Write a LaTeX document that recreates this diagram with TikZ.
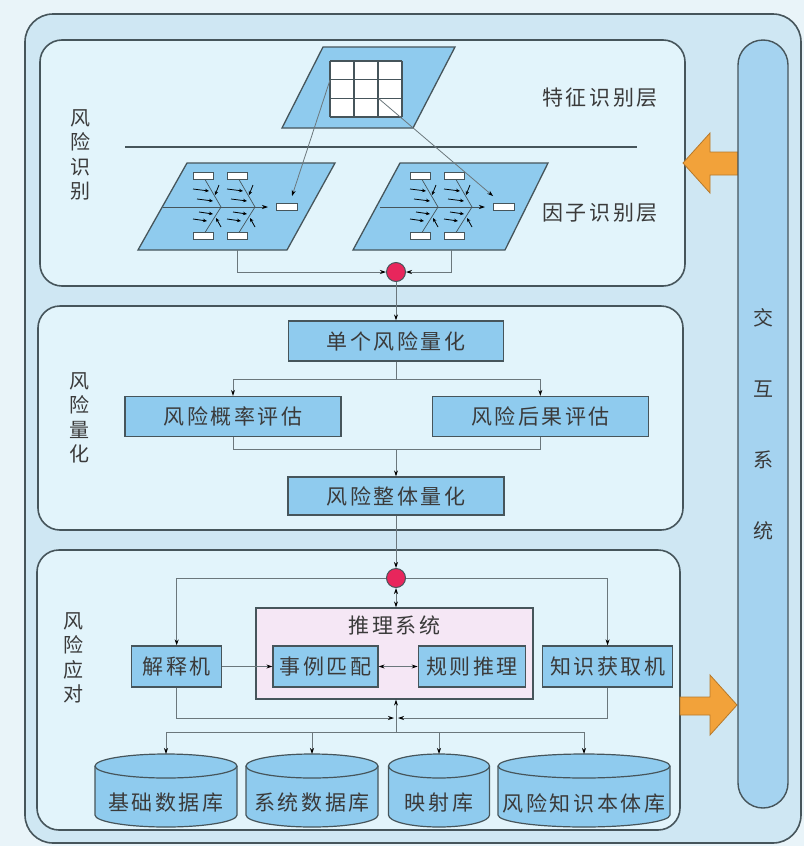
\documentclass[tikz,border=0pt]{standalone}
\usepackage{fontspec}
\newfontfamily\cjk{Noto Sans CJK SC}[LetterSpace=12]
\usepackage{tikz}
\usetikzlibrary{positioning, arrows.meta}

\definecolor{pagebg}{HTML}{E9F4F9}
\definecolor{outerfill}{HTML}{CFE7F3}
\definecolor{panelfill}{HTML}{E2F4FB}
\definecolor{boxblue}{HTML}{8FCBEE}
\definecolor{barblue}{HTML}{A5D3F0}
\definecolor{inferpink}{HTML}{F5E7F5}
\definecolor{dotred}{HTML}{E8265C}
\definecolor{bigorange}{HTML}{F2A23A}
\definecolor{edge}{HTML}{46555B}
\definecolor{wire}{HTML}{6B777C}
\definecolor{ink}{HTML}{3A3A3A}

\begin{document}
\begin{tikzpicture}[
    x=1pt, y=1pt,
    >={Stealth[length=6pt, width=4pt, color=black]},
    every node/.style={text=ink, font=\cjk\fontsize{21pt}{25pt}\selectfont},
    panel/.style={draw=edge, line width=1.6pt, rounded corners=22pt, fill=panelfill},
    box/.style={rectangle, draw=edge, line width=1.3pt, fill=boxblue, minimum height=40pt, inner sep=2pt},
    infer/.style={rectangle, draw=edge, line width=1.2pt, fill=inferpink},
    junction/.style={circle, draw=edge, line width=1pt, fill=dotred, minimum size=19pt, inner sep=0pt},
    sidelabel/.style={align=center, font=\cjk\fontsize{20pt}{24.5pt}\selectfont},
    line/.style={draw=wire, line width=0.8pt, ->},
    dline/.style={draw=wire, line width=0.8pt, <->},
    plain/.style={draw=wire, line width=0.8pt},
    layer/.style={draw=edge, line width=1.3pt, fill=boxblue},
    gridline/.style={draw=edge, line width=1.3pt},
    tag/.style={rectangle, draw=edge, line width=0.8pt, fill=white, minimum width=20pt, minimum height=7pt, inner sep=0pt},
    bone/.style={draw=edge, line width=0.7pt},
    twig/.style={draw=black, line width=0.8pt, -{Stealth[length=4pt, width=3.5pt]}},
    bigarrow/.style={fill=bigorange, draw=bigorange!75!black, line width=0.8pt},
    % cylinder store, origin at the centre of the top ellipse
    pics/database/.style 2 args={code={
        \pgfmathsetmacro\dbrx{#1/2}
        \draw[layer, line width=1.2pt] (-\dbrx,0) -- (-\dbrx,-49)
            arc[start angle=180, end angle=360, x radius=\dbrx pt, y radius=12pt]
            -- (\dbrx,0)
            arc[start angle=0, end angle=180, x radius=\dbrx pt, y radius=12pt] -- cycle;
        \draw[draw=edge, line width=1.2pt] (-\dbrx,0)
            arc[start angle=180, end angle=360, x radius=\dbrx pt, y radius=12pt];
        \node (-text) at (0,-37) {#2};
        \coordinate (-top) at (0,12);
    }},
    % small cause-effect sketch on a factor layer
    pics/fishbone/.style={code={
        \draw[bone, ->] (0,0) -- (105,0);
        \node[tag, minimum width=21pt] (-out) at (124,0) {};
        \foreach \x/\n in {40/a, 74/b} {
            \node[tag] (-up\n) at (\x,31) {};
            \node[tag] (-dn\n) at (\x,-29) {};
            \draw[bone] (\x+2,27.5) -- (\x+18,0);
            \draw[bone] (\x+2,-25.5) -- (\x+18,0);
            \draw[twig] (\x-10,18) -- (\x+6,16);
            \draw[twig] (\x+16,22) -- (\x+12,12);
            \draw[twig] (\x-6,8) -- (\x+10,6);
            \draw[twig] (\x-10,-12) -- (\x+4,-14);
            \draw[twig] (\x+18,-20) -- (\x+13,-11);
            \draw[twig] (\x-4,-5) -- (\x+10,-7);
        }
    }}
    ]

    \useasboundingbox (0,0) rectangle (804,-846);
    \fill[pagebg] (0,0) rectangle (804,-846);

    % Frames
    \draw[draw=edge, line width=1.6pt, fill=outerfill, rounded corners=28pt] (25,-14) rectangle (801,-843);
    \draw[panel] (40,-40) rectangle (685,-286);
    \draw[panel] (38,-306) rectangle (683,-530);
    \draw[panel] (37,-550) rectangle (680,-830);

    % Interaction system
    \draw[bigarrow] (683,-163) -- (710,-133) -- (710,-152) -- (738,-152) -- (738,-175)
        -- (710,-175) -- (710,-193) -- cycle;
    \draw[bigarrow] (680,-697) -- (710,-697) -- (710,-675) -- (737,-705) -- (710,-735)
        -- (710,-715) -- (680,-715) -- cycle;
    \node (inter) [draw=edge, line width=1.4pt, fill=barblue, rounded corners=25pt,
        minimum width=50pt, minimum height=768pt, align=center,
        font=\cjk\fontsize{20pt}{71pt}\selectfont] at (763,-424) {交\\互\\系\\统};

    % Side labels
    \node (idlabel) [sidelabel] at (80,-155) {风\\险\\识\\别};
    \node (qlabel) [sidelabel] at (79,-418) {风\\险\\量\\化};
    \node (rlabel) [sidelabel] at (73,-658) {风\\险\\应\\对};

    % Feature layer
    \draw[layer] (282,-128) -- (323,-47) -- (455,-47) -- (413,-128) -- cycle;
    \fill[white] (330,-61) rectangle (402,-117);
    \foreach \i in {0,...,3} {
        \draw[gridline] (330+24*\i,-61) -- (330+24*\i,-117);
        \draw[gridline] (330,-61-18.667*\i) -- (402,-61-18.667*\i);
    }
    \coordinate (gridL) at (330,-80);
    \coordinate (gridR) at (378,-98);
    \node (featlabel) at (600,-98) {特征识别层};

    \draw[gridline] (125,-147) -- (637,-147);

    % Factor layer
    \draw[layer] (138,-250) -- (187,-163) -- (335,-163) -- (287,-250) -- cycle;
    \draw[layer] (353,-250) -- (400,-163) -- (548,-163) -- (505,-250) -- cycle;
    \pic (fishL) at (163,-207) {fishbone};
    \pic (fishR) at (380,-207) {fishbone};
    \node (factlabel) at (600,-213) {因子识别层};
    \coordinate (lowL) at (237,-250);
    \coordinate (lowR) at (451,-250);

    \draw[line] (gridL) -- ([xshift=5pt, yshift=7pt]fishL-out.north);
    \draw[line] (gridR) -- ([yshift=7pt]fishR-out.north west);

    \node (j1) [junction] at (396,-272) {};
    \draw[line] (lowL) |- (j1);
    \draw[line] (lowR) |- (j1);

    % Quantification
    \node (single) [box, minimum width=215pt] at (396,-341) {单个风险量化};
    \node (prob) [box, minimum width=216pt] at (233,-416.5) {风险概率评估};
    \node (cons) [box, minimum width=216pt, right=90pt of prob] {风险后果评估};
    \node (whole) [box, minimum width=216pt, minimum height=38pt] at (396,-496) {风险整体量化};

    \draw[line] (j1) -- (single);
    \draw[line] (single.south) -- ++(0,-18) -| (prob);
    \draw[line] (single.south) -- ++(0,-18) -| (cons);
    \coordinate (merge) at ([yshift=-12pt]prob.south);
    \draw[plain] (prob.south) -- (merge) -| (cons.south);
    \draw[line] (merge -| whole.north) -- (whole.north);

    % Response
    \node (j2) [junction] at (396,-578) {};
    \node (infer) [infer, minimum width=277pt, minimum height=91pt] at (394.5,-653.5) {};
    \node (infertitle) [below=5pt of infer.north] {推理系统};
    \node (case) [box, minimum width=105pt, minimum height=41pt] at (325.5,-666.5) {事例匹配};
    \node (rule) [box, minimum width=107pt, minimum height=41pt, right=39pt of case] {规则推理};
    \node (explain) [box, minimum width=90pt, minimum height=41pt, left=50pt of case] {解释机};
    \node (acquire) [box, minimum width=130pt, minimum height=41pt, right=16pt of rule] {知识获取机};

    \draw[line] (whole) -- (j2);
    \draw[line] (j2) -| (explain);
    \draw[line] (j2) -| (acquire);
    \draw[dline] (j2) -- (j2 |- infer.north);
    \draw[line] (explain) -- (case);
    \draw[dline] (case) -- (rule);

    \coordinate (hub) at (396,-718);
    \coordinate (bus) at (396,-732);
    \draw[line] (explain.south) |- ([xshift=-2pt]hub);
    \draw[line] (acquire.south) |- ([xshift=2pt]hub);
    \draw[line] (bus) -- (bus |- infer.south);

    % Knowledge stores
    \pic (basedb) at (166,-766) {database={142}{基础数据库}};
    \pic (sysdb) at (312,-766) {database={132}{系统数据库}};
    \pic (mapdb) at (439,-766) {database={101}{映射库}};
    \pic (ontodb) at (584,-766) {database={172}{风险知识本体库}};
    \foreach \d in {basedb, sysdb, mapdb, ontodb}
        \draw[line] (bus) -| (\d-top);
\end{tikzpicture}
\end{document}
